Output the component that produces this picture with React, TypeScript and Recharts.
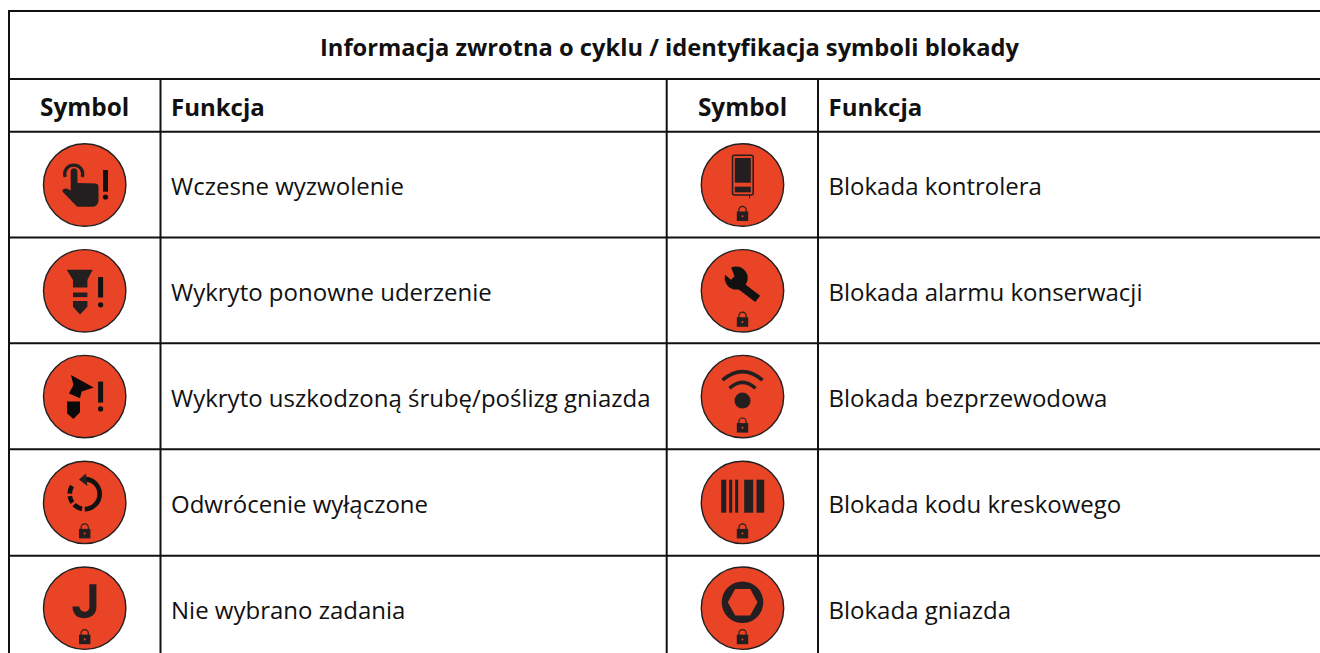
import { ScatterChart, Scatter, XAxis, YAxis, ReferenceLine } from 'recharts';

const title = 'Informacja zwrotna o cyklu / identyfikacja symboli blokady';
const headerSymbol = 'Symbol';
const headerFunction = 'Funkcja';

const leftSymbols = ['hand', 'rehit', 'stripped', 'reverse', 'job'];
const leftLabels = [
  'Wczesne wyzwolenie',
  'Wykryto ponowne uderzenie',
  'Wykryto uszkodzoną śrubę/poślizg gniazda',
  'Odwrócenie wyłączone',
  'Nie wybrano zadania',
];
const rightSymbols = ['controller', 'wrench', 'wifi', 'barcode', 'socket'];
const rightLabels = [
  'Blokada kontrolera',
  'Blokada alarmu konserwacji',
  'Blokada bezprzewodowa',
  'Blokada kodu kreskowego',
  'Blokada gniazda',
];

const WIDTH = 1320;
const HEIGHT = 653;
const FONT = '"Open Sans", sans-serif';
const RED = '#e94426';
const INK = '#231f20';

// table layout, in page pixels
const rowCentre = (i: number) => 185 + i * 105.8;
const textBaseline = (i: number) => 195 + i * 106;
const rowLines = [11, 79, 131.7, 237.5, 343.3, 449.2, 555.7];
const columnLines = [160.5, 666.7, 818];
const symbolColumns = [84.7, 742.5];
const textColumns = [171, 828.5];

const symbolPoints = [
  ...leftSymbols.map((symbol, i) => ({ x: symbolColumns[0], y: rowCentre(i), symbol })),
  ...rightSymbols.map((symbol, i) => ({ x: symbolColumns[1], y: rowCentre(i), symbol })),
];

const textPoints = [
  { x: 669.5, y: 56, label: title, weight: 700, size: 23.7, anchor: 'middle' },
  { x: symbolColumns[0], y: 116, label: headerSymbol, weight: 700, size: 24.4, anchor: 'middle' },
  { x: textColumns[0], y: 116, label: headerFunction, weight: 700, size: 24, anchor: 'start' },
  { x: symbolColumns[1], y: 116, label: headerSymbol, weight: 700, size: 24.4, anchor: 'middle' },
  { x: textColumns[1], y: 116, label: headerFunction, weight: 700, size: 24, anchor: 'start' },
  ...leftLabels.map((label, i) => ({ x: textColumns[0], y: textBaseline(i), label, weight: 400, size: 24, anchor: 'start' })),
  ...rightLabels.map((label, i) => ({ x: textColumns[1], y: textBaseline(i), label, weight: 400, size: 24, anchor: 'start' })),
];

function Bang({ x, top, bottom, dot }: { x: number; top: number; bottom: number; dot: number }) {
  return (
    <g fill="#111">
      <rect x={x - 2.5} y={top} width={5} height={bottom - top} />
      <circle cx={x} cy={dot} r={2.6} />
    </g>
  );
}

function Lock() {
  return (
    <g>
      <path d="M-3.6,28 V25 A3.6,3.6 0 0 1 3.6,25 V28" fill="none" stroke={INK} strokeWidth={1.2} />
      <rect x={-5.7} y={26.5} width={11.4} height={9.5} fill={INK} />
      <circle cx={0} cy={31.2} r={1} fill={RED} />
    </g>
  );
}

const glyphs: Record<string, () => JSX.Element> = {
  hand: () => (
    <g>
      <path d="M-19.5,-8 A9,9 0 1 1 -2.5,-8" fill="none" stroke={INK} strokeWidth={3.3} />
      <path
        d="M-14,-13.5 C-14,-18 -7.3,-18 -7.3,-13.5 V-2 L11,-1.5 C13,-1.2 13.8,0 13.8,2 V15 C13.8,19.5 11,21.7 8,21.7 H-7.5 L-22.3,6.5 C-22.5,4 -20,3.2 -18,3.5 L-14,5.5 Z"
        fill={INK}
      />
      <Bang x={20.8} top={-15} bottom={6.7} dot={12} />
    </g>
  ),
  rehit: () => (
    <g fill={INK}>
      <polygon points="-18,-21 8,-21 2.7,-10.7 2.7,-3.3 -11.7,-3.3 -11.7,-10.7" />
      <rect x={-11.7} y={1.7} width={14.4} height={4.6} />
      <polygon points="-11.7,10.3 2.7,10.3 2.7,16 -4.7,23.7 -11.7,16" />
      <Bang x={15.9} top={-13.7} bottom={6.7} dot={14} />
    </g>
  ),
  stripped: () => (
    <g fill="#0a0a0a">
      <polygon points="-13.7,-21.7 9,-9 -3,-5 -4.7,1.7 -15.7,-3 -11.3,-11.7" />
      <polygon points="-17.7,5 -4.7,5 -4.7,15.7 -11.3,22.3 -17.7,16.7" />
      <Bang x={15.9} top={-15} bottom={6} dot={12.3} />
    </g>
  ),
  reverse: () => (
    <g>
      <g fill="none" stroke="#111" strokeWidth={4.6}>
        <path d="M0,-23.3 A15,15 0 0 1 0,6.7" />
        <path d="M-2.6,6.5 A15,15 0 0 1 -10.6,2.3" />
        <path d="M-12.3,0.3 A15,15 0 0 1 -14.9,-6.2" />
        <path d="M-15,-8.8 A15,15 0 0 1 -12.7,-16.3" />
      </g>
      <polygon points="-5.7,-23 1.3,-29 2.7,-16.3" fill={INK} />
      <Lock />
    </g>
  ),
  job: () => (
    <g>
      <path
        d="M4.7,-24 H11.7 V-1 C11.7,6 6,10 -0.5,10 C-7,10 -12,6.5 -12.3,-1.7 L-5.5,-1.7 C-5,1.5 -3,3.5 -0.3,3.5 C2.8,3.5 4.7,1.5 4.7,-1.5 Z"
        fill={INK}
      />
      <Lock />
    </g>
  ),
  controller: () => (
    <g>
      <rect x={-10} y={-29.7} width={20.7} height={39.7} rx={2} fill="none" stroke={INK} strokeWidth={1.5} />
      <rect x={-7.7} y={-27} width={16} height={24.7} fill={INK} />
      <rect x={-7.7} y={1.7} width={16} height={5.6} fill={INK} />
      <path d="M7,10 V13.3" stroke={INK} strokeWidth={1} />
      <Lock />
    </g>
  ),
  wrench: () => (
    <g>
      <circle cx={-6.3} cy={-12.7} r={11.5} fill="#111" />
      <polygon points="0.3,-8.4 17.7,5 12.7,11.3 -4.7,-2.1" fill="#111" />
      <polygon points="-21,-19 -12,-25 -8,-14.5 -11.5,-11" fill={RED} />
      <Lock />
    </g>
  ),
  wifi: () => (
    <g>
      <circle cx={0} cy={4} r={8} fill={INK} />
      <path d="M-13,-8.3 Q0,-20.3 13,-8.3" fill="none" stroke={INK} strokeWidth={3.6} />
      <path d="M-20,-16.5 Q0,-33.5 20,-16.5" fill="none" stroke={INK} strokeWidth={3.6} />
      <Lock />
    </g>
  ),
  barcode: () => (
    <g fill={INK}>
      <rect x={-21.3} y={-22.7} width={5} height={33} />
      <rect x={-13.3} y={-22.7} width={3} height={33} />
      <rect x={-7.3} y={-22.7} width={3} height={33} />
      <rect x={1.7} y={-22.7} width={9} height={33} />
      <rect x={14} y={-22.7} width={7.7} height={33} />
      <Lock />
    </g>
  ),
  socket: () => (
    <g>
      <circle cx={0} cy={-6} r={20.8} fill={INK} />
      <polygon points="-14.7,-6 -7.3,-19.3 7.7,-19.3 15,-6 7.7,7.3 -7.3,7.3" fill={RED} />
      <Lock />
    </g>
  ),
};

function SymbolBadge({ cx, cy, payload }: any) {
  const Glyph = glyphs[payload.symbol];
  return (
    <g transform={`translate(${cx},${cy})`}>
      <circle r={41.2} fill={RED} stroke={INK} strokeWidth={1.4} />
      <Glyph />
    </g>
  );
}

function TextCell({ cx, cy, payload }: any) {
  return (
    <text
      x={cx}
      y={cy}
      textAnchor={payload.anchor}
      fontFamily={FONT}
      fontWeight={payload.weight}
      fontSize={payload.size}
      fill="#111"
    >
      {payload.label}
    </text>
  );
}

export default function App() {
  return (
    <div style={{ position: 'absolute', left: 0, top: 0, background: '#fff' }}>
      <ScatterChart width={WIDTH} height={HEIGHT} margin={{ top: 0, right: 0, bottom: 0, left: 0 }}>
        <XAxis type="number" dataKey="x" domain={[0, WIDTH]} hide />
        <YAxis type="number" dataKey="y" domain={[0, HEIGHT]} reversed hide />
        {rowLines.map((y) => (
          <ReferenceLine key={y} segment={[{ x: 9, y }, { x: WIDTH, y }]} stroke="#111" strokeWidth={2} />
        ))}
        <ReferenceLine segment={[{ x: 9, y: 10 }, { x: 9, y: HEIGHT }]} stroke="#111" strokeWidth={2} />
        {columnLines.map((x) => (
          <ReferenceLine key={x} segment={[{ x, y: 79 }, { x, y: HEIGHT }]} stroke="#111" strokeWidth={2} />
        ))}
        <Scatter data={symbolPoints} shape={SymbolBadge} isAnimationActive={false} />
        <Scatter data={textPoints} shape={TextCell} isAnimationActive={false} />
      </ScatterChart>
    </div>
  );
}
